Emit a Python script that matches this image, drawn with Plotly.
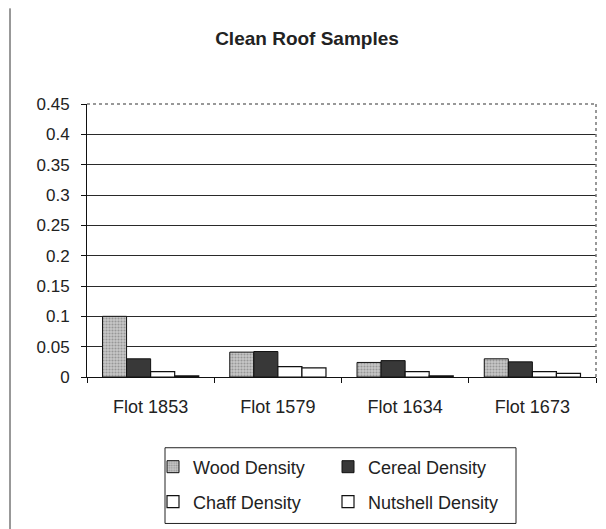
import plotly.graph_objects as go

categories = ["Flot 1853", "Flot 1579", "Flot 1634", "Flot 1673"]
wood = [0.100, 0.041, 0.024, 0.030]
cereal = [0.030, 0.042, 0.027, 0.025]
chaff = [0.009, 0.017, 0.009, 0.009]
nutshell = [0.002, 0.015, 0.002, 0.006]
y_ticks = [0, 0.05, 0.1, 0.15, 0.2, 0.25, 0.3, 0.35, 0.4, 0.45]

FONT = "Liberation Sans, Arial, sans-serif"
INK = "#222222"

fig = go.Figure()
fig.add_trace(go.Bar(
    name="Wood Density", x=categories, y=wood, legend="legend",
    marker=dict(color="#b8b8b8", line=dict(color="#111", width=1),
                pattern=dict(shape=".", fgcolor="#666", bgcolor="#c8c8c8", size=3, solidity=0.4)),
))
fig.add_trace(go.Bar(
    name="Cereal Density", x=categories, y=cereal, legend="legend",
    marker=dict(color="#383838", line=dict(color="#111", width=1)),
))
fig.add_trace(go.Bar(
    name="Chaff Density", x=categories, y=chaff, legend="legend2",
    marker=dict(color="white", line=dict(color="#111", width=1.2)),
))
fig.add_trace(go.Bar(
    name="Nutshell Density", x=categories, y=nutshell, legend="legend2",
    marker=dict(color="white", line=dict(color="#111", width=1.2)),
))

# the page body has an 8px margin, so the figure is drawn 8px smaller
OFF = 8
W, H = 606 - OFF, 529 - OFF
L, T = 87 - OFF, 104 - OFF
R = W - (596 - OFF)
B = H - (378 - OFF)
pw, ph = W - L - R, H - T - B

def px_x(p):
    return (p - OFF - L) / pw

def px_y(p):
    return (H - B - (p - OFF)) / ph

legend_common = dict(
    orientation="h", xanchor="left", yanchor="middle",
    x=px_x(153), entrywidth=130, entrywidthmode="pixels",
    font=dict(family=FONT, size=18, color=INK),
    bgcolor="rgba(0,0,0,0)", borderwidth=0, itemclick=False,
)

fig.update_layout(
    width=W, height=H,
    margin=dict(l=L, r=R, t=T, b=B, pad=0),
    paper_bgcolor="white", plot_bgcolor="white",
    barmode="group", bargap=0.244, bargroupgap=0,
    title=dict(text="<b>Clean Roof Samples</b>", x=(307 - OFF) / W, xref="container", xanchor="center",
               y=1 - (38 - OFF) / H, yref="container", yanchor="middle",
               font=dict(family=FONT, size=19, color=INK)),
    font=dict(family=FONT, color=INK),
    showlegend=True,
    legend=dict(y=px_y(467), **legend_common),
    legend2=dict(y=px_y(502), **legend_common),
    xaxis=dict(
        type="category", showline=True, linecolor="#111", linewidth=1,
        ticks="outside", ticklen=5, tickcolor="#111", tickson="boundaries",
        tickfont=dict(family=FONT, size=18, color=INK), ticklabelstandoff=13,
        showgrid=False,
    ),
    yaxis=dict(
        range=[0, 0.45], tickvals=y_ticks, showline=True, linecolor="#111", linewidth=1,
        ticks="outside", ticklen=5, tickcolor="#111",
        tickfont=dict(family=FONT, size=17, color=INK), ticklabelstandoff=8,
        showgrid=True, gridcolor="#2a2a2a", gridwidth=1, zeroline=False,
    ),
    shapes=[
        # right and top plot frame (dotted grey)
        dict(type="line", xref="paper", yref="paper", x0=1, x1=1, y0=0, y1=1,
             line=dict(color="#777", width=1.5, dash="dot")),
        dict(type="line", xref="paper", yref="paper", x0=0, x1=1, y0=1, y1=1,
             line=dict(color="#777", width=1.5, dash="dot")),
        # legend box
        dict(type="rect", xref="paper", yref="paper",
             x0=px_x(165), x1=px_x(516), y0=px_y(525), y1=px_y(449),
             line=dict(color="#222", width=1)),
        # outer chart frame (left edge)
        dict(type="line", xref="paper", yref="paper",
             x0=px_x(10), x1=px_x(10), y0=px_y(8), y1=px_y(535),
             line=dict(color="#333", width=1)),
    ],
)

fig.write_html("out.html")
